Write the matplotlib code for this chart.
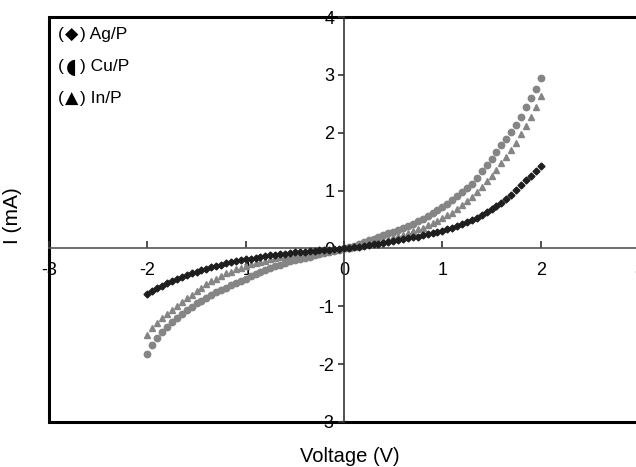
import numpy as np
import matplotlib
matplotlib.use("Agg")
import matplotlib.pyplot as plt

plt.rcParams['font.family'] = ['Liberation Sans', 'DejaVu Sans']

voltage = [-2.00, -1.95, -1.90, -1.85, -1.80, -1.75, -1.70, -1.65, -1.60, -1.55,
           -1.50, -1.45, -1.40, -1.35, -1.30, -1.25, -1.20, -1.15, -1.10, -1.05,
           -1.00, -0.95, -0.90, -0.85, -0.80, -0.75, -0.70, -0.65, -0.60, -0.55,
           -0.50, -0.45, -0.40, -0.35, -0.30, -0.25, -0.20, -0.15, -0.10, -0.05,
           0.00, 0.05, 0.10, 0.15, 0.20, 0.25, 0.30, 0.35, 0.40, 0.45,
           0.50, 0.55, 0.60, 0.65, 0.70, 0.75, 0.80, 0.85, 0.90, 0.95,
           1.00, 1.05, 1.10, 1.15, 1.20, 1.25, 1.30, 1.35, 1.40, 1.45,
           1.50, 1.55, 1.60, 1.65, 1.70, 1.75, 1.80, 1.85, 1.90, 1.95, 2.00]

ag_current = [-0.79, -0.74, -0.69, -0.645, -0.60, -0.56, -0.525, -0.49, -0.46, -0.43,
              -0.40, -0.375, -0.35, -0.325, -0.30, -0.28, -0.26, -0.24, -0.22, -0.205,
              -0.19, -0.175, -0.16, -0.145, -0.13, -0.12, -0.11, -0.10, -0.09, -0.08,
              -0.07, -0.06, -0.055, -0.045, -0.04, -0.03, -0.025, -0.02, -0.01, -0.005,
              0.00, 0.01, 0.02, 0.03, 0.04, 0.055, 0.07, 0.085, 0.10, 0.115,
              0.13, 0.145, 0.16, 0.175, 0.19, 0.205, 0.225, 0.245, 0.265, 0.285,
              0.305, 0.33, 0.355, 0.385, 0.415, 0.45, 0.49, 0.53, 0.58, 0.63,
              0.68, 0.73, 0.79, 0.86, 0.93, 1.01, 1.10, 1.18, 1.26, 1.34, 1.42]

cu_current = [-1.82, -1.67, -1.54, -1.44, -1.35, -1.27, -1.20, -1.13, -1.07, -1.01,
              -0.95, -0.90, -0.85, -0.80, -0.76, -0.72, -0.68, -0.64, -0.60, -0.56,
              -0.52, -0.48, -0.44, -0.40, -0.37, -0.34, -0.31, -0.28, -0.25, -0.225,
              -0.20, -0.18, -0.16, -0.14, -0.12, -0.10, -0.08, -0.06, -0.04, -0.02,
              0.00, 0.02, 0.05, 0.08, 0.11, 0.14, 0.17, 0.20, 0.23, 0.26,
              0.29, 0.32, 0.36, 0.39, 0.43, 0.47, 0.51, 0.56, 0.61, 0.66,
              0.71, 0.77, 0.83, 0.90, 0.97, 1.04, 1.12, 1.22, 1.33, 1.44,
              1.55, 1.66, 1.78, 1.90, 2.01, 2.14, 2.28, 2.44, 2.60, 2.76, 2.94]

in_current = [-1.50, -1.38, -1.29, -1.21, -1.13, -1.06, -0.99, -0.92, -0.86, -0.80,
              -0.74, -0.68, -0.62, -0.57, -0.52, -0.47, -0.43, -0.40, -0.36, -0.33,
              -0.30, -0.27, -0.25, -0.23, -0.21, -0.19, -0.17, -0.155, -0.14, -0.125,
              -0.11, -0.10, -0.09, -0.08, -0.07, -0.06, -0.045, -0.03, -0.02, -0.01,
              0.00, 0.01, 0.03, 0.05, 0.07, 0.09, 0.11, 0.13, 0.15, 0.17,
              0.19, 0.21, 0.24, 0.27, 0.30, 0.33, 0.36, 0.40, 0.44, 0.48,
              0.52, 0.57, 0.62, 0.68, 0.75, 0.82, 0.89, 0.97, 1.06, 1.16,
              1.26, 1.36, 1.47, 1.58, 1.70, 1.83, 1.97, 2.12, 2.28, 2.45, 2.64]

legend_names = ["Ag/P", "Cu/P", "In/P"]
legend_symbols = ["\u25c6", "\u25d6", "\u25b2"]
x_ticks = [-3, -2, -1, 0, 1, 2, 3]
y_ticks = [-3, -2, -1, 0, 1, 2, 3, 4]

fig = plt.figure(figsize=(6.36, 4.67), dpi=100)
ax = fig.add_axes([49/636, 1 - 422/467, 590/636, 405/467])
ax.set_xlim(-3, 3)
ax.set_ylim(-3, 4)

gray = '#858585'
ax.plot(voltage, cu_current, linestyle='none', marker='o', ms=4.6, color=gray, mec=gray, zorder=3)
ax.plot(voltage, in_current, linestyle='none', marker='^', ms=4.8, color=gray, mec=gray, zorder=3)
ax.plot(voltage, ag_current, linestyle='none', marker='D', ms=3.5, color='#1e1e1e', mec='#1e1e1e', zorder=4)

# frame
ax.patch.set_edgecolor('black')
ax.patch.set_linewidth(2.2)
ax.spines['top'].set_visible(False)
ax.spines['right'].set_visible(False)
ax.spines['left'].set_position(('data', 0))
ax.spines['bottom'].set_position(('data', 0))
ax.spines['left'].set_linewidth(1.2)
ax.spines['bottom'].set_linewidth(1.2)
ax.spines['left'].set_color('#333333')
ax.spines['bottom'].set_color('#555555')

ax.set_xticks(x_ticks)
ax.set_xticklabels([str(t) for t in x_ticks])
ax.set_yticks(y_ticks)
ax.set_yticklabels([str(t) for t in y_ticks])
ax.tick_params(axis='x', direction='in', length=5, width=1.2, pad=10, labelsize=13, color='#333333')
ax.tick_params(axis='y', direction='out', length=4, width=1.2, pad=3, labelsize=13, color='#333333')
for lbl in ax.get_xticklabels() + ax.get_yticklabels():
    lbl.set_clip_on(False)

ax.text(0.51, -0.085, 'Voltage (V)', transform=ax.transAxes, ha='center', va='center', fontsize=14.5)
fig.text(13/636, 1 - 216/467, 'I (mA)', rotation=90, ha='center', va='center', fontsize=15)

for i, (sym, name) in enumerate(zip(legend_symbols, legend_names)):
    y = 0.956 - i * 0.079
    ax.text(0.015, y, "(", transform=ax.transAxes, ha='left', va='center', fontsize=12.5)
    ax.text(0.038, y, sym, transform=ax.transAxes, ha='center', va='center',
            fontsize=12.5 if i != 1 else 15, family=['DejaVu Sans'])
    ax.text(0.053, y, ") " + name, transform=ax.transAxes, ha='left', va='center', fontsize=12.5)

fig.savefig('out.png', dpi=100)
